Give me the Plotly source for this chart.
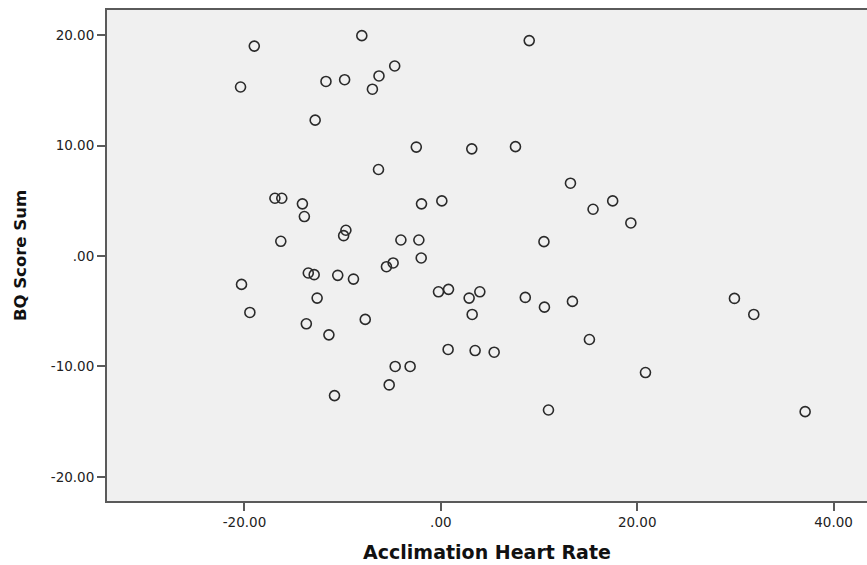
import plotly.graph_objects as go

acclimation_hr = [
    -20.4, -19.0, -8.05, -11.7, -9.8, -6.3, -4.7, -6.97, -12.8, -2.5, -6.35,
    9.0, 3.15, 7.6, 13.2,
    -16.9, -16.2, -14.1, -13.9, -9.67, -9.9, -16.3, -1.97, 0.1, -4.07, -2.24,
    -2.0, -4.86, -5.54, -13.5, -12.9, -10.5, -8.9, -20.3, -12.6, -19.45,
    -13.7, -7.7, -11.4, -0.24, 0.78,
    15.5, 17.5, 19.35, 10.5, 2.88, 3.97, 3.19, 8.6, 10.55, 13.4,
    -4.65, -3.13, -5.26, -10.83,
    0.74, 3.49, 5.43, 15.13, 20.84, 10.96,
    29.9, 31.87, 37.1,
]
bq_score_sum = [
    15.3, 19.0, 19.95, 15.8, 15.96, 16.3, 17.2, 15.1, 12.3, 9.86, 7.83,
    19.5, 9.7, 9.9, 6.59,
    5.23, 5.23, 4.72, 3.57, 2.33, 1.84, 1.33, 4.72, 4.99, 1.45, 1.45,
    -0.18, -0.63, -0.97, -1.54, -1.69, -1.75, -2.09, -2.57, -3.81, -5.11,
    -6.14, -5.74, -7.14, -3.24, -3.02,
    4.23, 4.99, 2.99, 1.3, -3.81, -3.24, -5.29, -3.75, -4.63, -4.11,
    -10.0, -10.0, -11.67, -12.64,
    -8.46, -8.56, -8.71, -7.56, -10.55, -13.94,
    -3.84, -5.29, -14.09,
]

x_ticks = [-20, 0, 20, 40]
x_tick_labels = ["-20.00", ".00", "20.00", "40.00"]
y_ticks = [-20, -10, 0, 10, 20]
y_tick_labels = ["-20.00", "-10.00", ".00", "10.00", "20.00"]

fig = go.Figure()
fig.add_trace(go.Scatter(
    x=acclimation_hr, y=bq_score_sum, mode="markers",
    marker=dict(symbol="circle-open", size=10, color="#2a2a2a",
                line=dict(width=1.6, color="#2a2a2a")),
    showlegend=False,
))

axis_font = dict(family="DejaVu Sans", size=13.5, color="#222222")
fig.update_layout(
    width=867, height=565,
    margin=dict(l=107, r=0, t=10, b=64),
    paper_bgcolor="white",
    plot_bgcolor="#f0f0f0",
    xaxis=dict(
        range=[-34, 43.4], tickvals=x_ticks, ticktext=x_tick_labels,
        showgrid=False, zeroline=False, showline=True, mirror=True,
        linecolor="#5a5a5a", linewidth=2, ticks="outside", ticklen=8,
        tickwidth=2, tickcolor="#5a5a5a", tickfont=axis_font,
        title=dict(text="<b>Acclimation Heart Rate</b>",
                   font=dict(family="DejaVu Sans", size=19, color="#111111"),
                   standoff=16),
    ),
    yaxis=dict(
        range=[-22.18, 22.27], tickvals=y_ticks, ticktext=y_tick_labels,
        showgrid=False, zeroline=False, showline=True,
        linecolor="#5a5a5a", linewidth=2, ticks="outside", ticklen=8,
        tickwidth=2, tickcolor="#5a5a5a", tickfont=axis_font,
        title=dict(text="<b>BQ Score Sum</b>",
                   font=dict(family="DejaVu Sans", size=16.5, color="#111111"),
                   standoff=20),
    ),
)

fig.write_html("out.html")
